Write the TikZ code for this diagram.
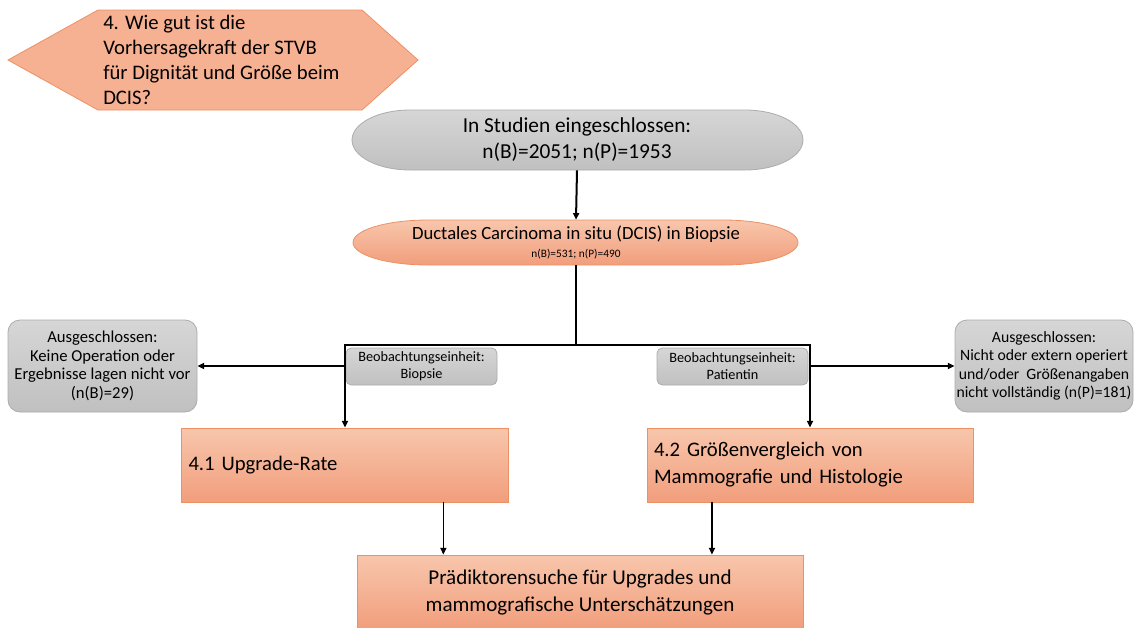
\documentclass[tikz,border=0pt]{standalone}
\usepackage{fontspec}
\setmainfont{Carlito}
\usepackage{tikz}
\definecolor{orangetop}{RGB}{248, 198, 172}
\definecolor{orangebot}{RGB}{241, 158, 124}
\definecolor{orangeedge}{RGB}{236, 145, 100}
\definecolor{hexfill}{RGB}{246, 176, 146}
\definecolor{greytop}{RGB}{214, 214, 214}
\definecolor{greybot}{RGB}{192, 192, 192}
\definecolor{greyedge}{RGB}{172, 172, 172}
\usetikzlibrary{arrows.meta, positioning, calc}

\begin{document}
\begin{tikzpicture}[x=0.75pt, y=-0.75pt,
    arr/.style={-{Triangle[length=5pt, width=4.5pt]}, line width=1.5pt},
    arrthin/.style={-{Triangle[length=5pt, width=4.5pt]}, line width=1.1pt},
    orangebox/.style={draw=orangeedge, line width=0.6pt, top color=orangetop, bottom color=orangebot},
    greyshade/.style={draw=greyedge, line width=0.6pt, top color=greytop, bottom color=greybot},
    ausbox/.style={greyshade, rounded corners=9pt, minimum height=92*0.75pt, align=center, inner sep=0pt, font=\fontsize{12.5}{13.9}\selectfont},
    beobbox/.style={greyshade, rounded corners=4pt, minimum width=151*0.75pt, minimum height=37*0.75pt, align=center, inner sep=1pt, font=\fontsize{10.7}{12.75}\selectfont},
    stepbox/.style={orangebox, minimum height=74*0.75pt, inner xsep=7*0.75pt, font=\fontsize{15.5}{20.25}\selectfont},
]
    \useasboundingbox (0,0) rectangle (1135,628);

    % Frage (Sechseck)
    \path[draw=orangeedge, line width=0.6pt, fill=hexfill] (8,60) -- (98,10) -- (362,10) -- (418,60) -- (362,110) -- (98,110) -- cycle;
    \node[anchor=west, align=left, inner sep=0pt, font=\fontsize{15.5}{18.75}\selectfont] (frage) at (103,60)
        {4. Wie gut ist die\\Vorhersagekraft der STVB\\für Dignität und Größe beim\\DCIS?};

    % Kapseln oben
    \path[greyshade] (410,110) -- (745,110) arc[start angle=-90, end angle=90, x radius=58, y radius=30]
        -- (410,170) arc[start angle=90, end angle=270, x radius=58, y radius=30] -- cycle;
    \node[minimum width=453*0.75pt, minimum height=60*0.75pt, align=center, font=\fontsize{16}{19.5}\selectfont] (studien) at (577,140)
        {In Studien eingeschlossen:\\n(B)=2051; n(P)=1953};

    \path[orangebox] (428,220) -- (723,220) arc[start angle=-90, end angle=90, x radius=75, y radius=22.5]
        -- (428,265) arc[start angle=90, end angle=270, x radius=75, y radius=22.5] -- cycle;
    \node[minimum width=445*0.75pt, minimum height=45*0.75pt, align=center, font=\fontsize{14}{14}\selectfont] (dcis) at (576,242.5)
        {Ductales Carcinoma in situ (DCIS) in Biopsie\\{\fontsize{8.5}{10}\selectfont n(B)=531; n(P)=490}};

    % Ausschluss
    \node[ausbox, minimum width=189*0.75pt] (ausL) at (102.5,366)
        {Ausgeschlossen:\\Keine Operation oder\\Ergebnisse lagen nicht vor\\(n(B)=29)};
    \node[ausbox, minimum width=178*0.75pt, font=\fontsize{11.8}{13.9}\selectfont] (ausR) at (1044,366)
        {Ausgeschlossen:\\Nicht oder extern operiert\\und/oder\ \ Größenangaben\\nicht vollständig (n(P)=181)};

    % Beobachtungseinheiten
    \node[beobbox] (beobL) at (421.5,366.5) {Beobachtungseinheit:\\Biopsie};
    \node[beobbox] (beobR) at (732.5,366.5) {Beobachtungseinheit:\\Patientin};

    % Teilfragen
    \node[stepbox, text width=313*0.75pt, align=left] (rate) at (345,465) {4.1 Upgrade-Rate};
    \node[stepbox, text width=312*0.75pt, align=left] (groesse) at (810,465)
        {4.2 Größenvergleich von\\Mammografie und Histologie};
    \node[stepbox, minimum width=446*0.75pt, align=center, font=\fontsize{15.8}{20.25}\selectfont] (praed) at (580,592)
        {Prädiktorensuche für Upgrades und\\mammografische Unterschätzungen};

    % Verbindungen
    \coordinate (split) at (dcis.south |- 0,345);
    \draw[arr] (studien.south) -- (dcis.north);
    \draw[line width=1.5pt] (dcis.south) -- (split);
    \draw[arr] (split) -| (rate.north);
    \draw[arr] (split) -| (groesse.north);
    \draw[arr] (rate.north |- ausL.east) -- (ausL.east);
    \draw[arr] (groesse.north |- ausR.west) -- (ausR.west);
    \draw[arrthin] ($(rate.south west)!0.8!(rate.south east)$) coordinate (r1) -- (r1 |- praed.north);
    \draw[arrthin] ($(groesse.south west)!0.2!(groesse.south east)$) coordinate (g1) -- (g1 |- praed.north);
\end{tikzpicture}
\end{document}
